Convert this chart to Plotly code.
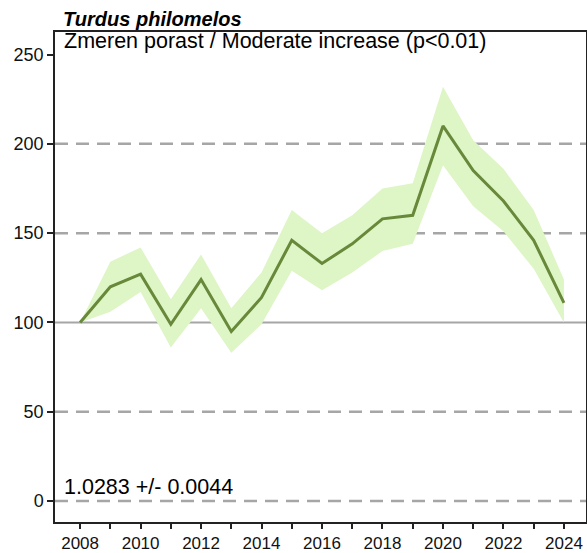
import plotly.graph_objects as go

# data
years = list(range(2008, 2025))
index = [100, 120, 127, 99, 124, 95, 114, 146, 133, 144, 158, 160, 210, 185, 168, 146, 111]
upper = [100, 134, 142, 113, 138, 108, 128, 163, 150, 160, 175, 178, 232, 202, 186, 163, 124]
lower = [100, 106, 117, 86, 108, 83, 99, 129, 118, 128, 140, 144, 188, 165, 151, 130, 100]
dashed_levels = [0, 50, 150, 200]
tick_years = years
tick_labels = [str(y) if y % 2 == 0 else "" for y in years]

species = "Turdus philomelos"
trend_text = "Zmeren porast / Moderate increase (p<0.01)"
slope_text = "1.0283 +/- 0.0044"

FONT = "Liberation Sans, Arial, sans-serif"

fig = go.Figure()

# confidence band
fig.add_trace(go.Scatter(x=years, y=upper, mode="lines", line=dict(width=0),
                         showlegend=False, hoverinfo="skip"))
fig.add_trace(go.Scatter(x=years, y=lower, mode="lines", line=dict(width=0),
                         fill="tonexty", fillcolor="rgb(222,245,198)",
                         showlegend=False, hoverinfo="skip"))

for lvl in dashed_levels:
    fig.add_hline(y=lvl, line=dict(color="#a6a6a6", width=2.5, dash="13px,8px"), layer="below")
fig.add_hline(y=100, line=dict(color="#a6a6a6", width=2), layer="below")

fig.add_trace(go.Scatter(x=years, y=index, mode="lines",
                         line=dict(color="rgb(104,136,58)", width=3),
                         showlegend=False))

fig.update_xaxes(range=[2007.17, 2024.73], tickvals=tick_years, ticktext=tick_labels,
                 ticks="outside", ticklen=5, tickwidth=2, tickcolor="#222",
                 showline=True, linecolor="#222", linewidth=1.5, mirror=True,
                 showgrid=False, zeroline=False, automargin=False,
                 tickfont=dict(family=FONT, size=17, color="#111"))
fig.update_yaxes(range=[-11.7, 262.6], tickvals=[0, 50, 100, 150, 200, 250],
                 ticks="outside", ticklen=6, tickwidth=2, tickcolor="#222",
                 showline=True, linecolor="#222", linewidth=1.5, mirror=True,
                 showgrid=False, zeroline=False, automargin=False,
                 tickfont=dict(family=FONT, size=18, color="#111"))

fig.add_annotation(text=f"<b><i>{species}</i></b>", xref="paper", yref="paper",
                   x=0.012, y=1.0, xanchor="left", yanchor="bottom", showarrow=False,
                   font=dict(family=FONT, size=20, color="#000"))
fig.add_annotation(text=trend_text, xref="paper", yref="paper",
                   x=0.014, y=1.01, xanchor="left", yanchor="top", showarrow=False,
                   font=dict(family=FONT, size=21.5, color="#000"))
fig.add_annotation(text=slope_text, xref="paper", y=0, x=0.014, yref="y",
                   xanchor="left", yanchor="bottom", showarrow=False,
                   font=dict(family=FONT, size=21.5, color="#000"))

fig.update_layout(width=587, height=553, plot_bgcolor="white", paper_bgcolor="white",
                  margin=dict(l=55, r=1, t=32, b=31))

fig.write_html("out.html", config={"displayModeBar": False},
               post_script="document.body.style.margin='0';document.body.style.overflow='hidden';")
